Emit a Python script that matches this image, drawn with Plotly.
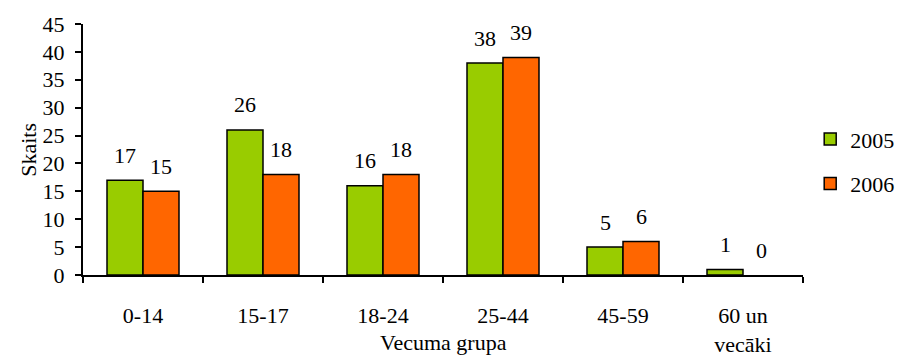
import plotly.graph_objects as go

categories = ["0-14", "15-17", "18-24", "25-44", "45-59", "60 un<br>vecāki"]
series_2005 = [17, 26, 16, 38, 5, 1]
series_2006 = [15, 18, 18, 39, 6, 0]
series_names = ["2005", "2006"]
y_ticks = [0, 5, 10, 15, 20, 25, 30, 35, 40, 45]

FONT = "Liberation Serif, Times New Roman, serif"
FS = 22
colors = ["#99CC00", "#FF6600"]

fig = go.Figure()
for name, vals, col, grp in zip(series_names, [series_2005, series_2006], colors, ["a", "b"]):
    fig.add_trace(go.Bar(
        x=categories, y=vals, name=name, legendgroup=grp,
        marker=dict(color=col,
                    line=dict(color="black", width=[1.5 if v > 0 else 0 for v in vals])),
    ))

# data labels
for vals, shift in [(series_2005, -18), (series_2006, 18)]:
    for c, v in zip(categories, vals):
        fig.add_annotation(x=c, y=v, text=str(v), showarrow=False, xshift=shift,
                           yshift=25, yanchor="middle", xanchor="center",
                           font=dict(family=FONT, size=FS, color="black"))

fig.add_annotation(xref="paper", yref="paper", x=0.5, y=-0.267, text="Vecuma grupa",
                   showarrow=False, yanchor="middle",
                   font=dict(family=FONT, size=FS, color="black"))
fig.add_annotation(xref="paper", yref="paper", x=-0.076, y=0.5, text="Skaits",
                   showarrow=False, textangle=-90, xanchor="center", yanchor="middle",
                   font=dict(family=FONT, size=FS, color="black"))

fig.update_layout(
    width=903, height=356,
    margin=dict(l=75, r=104, t=16, b=89),
    paper_bgcolor="white", plot_bgcolor="white",
    barmode="group", bargap=0.4, bargroupgap=0,
    font=dict(family=FONT, size=FS, color="black"),
    showlegend=True,
    legend=dict(x=1.01, xanchor="left", y=0.625, yanchor="top",
                tracegroupgap=13, font=dict(family=FONT, size=FS),
                bgcolor="rgba(0,0,0,0)"),
    xaxis=dict(showline=True, linecolor="black", linewidth=2, automargin=False,
               ticks="outside", tickson="boundaries", ticklen=6, tickwidth=2,
               tickcolor="black", ticklabelstandoff=20,
               showgrid=False, zeroline=False, fixedrange=True),
    yaxis=dict(range=[0, 45], tickvals=y_ticks, showline=True, linecolor="black",
               linewidth=2, ticks="outside", ticklen=6, tickwidth=2, tickcolor="black",
               showgrid=False, zeroline=False, ticklabelstandoff=6, automargin=False),
)

fig.write_html("out.html")
